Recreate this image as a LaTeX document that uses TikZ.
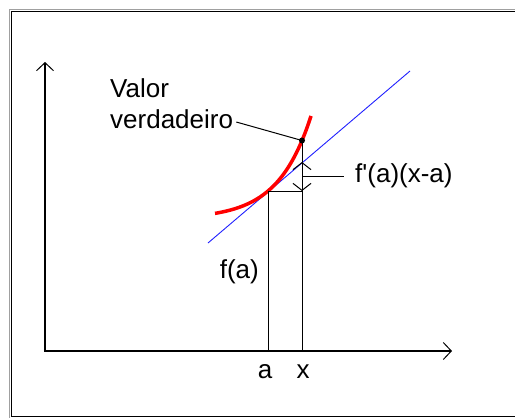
\documentclass[tikz,border=0pt]{standalone}
\usepackage{fontspec}
\setmainfont{Liberation Sans}
\usetikzlibrary{arrows.meta,calc}
\definecolor{tgInk}{HTML}{000000}
\definecolor{tgRed}{HTML}{FF0000}
\definecolor{tgBlue}{HTML}{2020FF}
\definecolor{tgGray}{HTML}{A0A0A0}
\tikzset{
  axis/.style    ={tgInk,line width=2.4pt,
                   -{Straight Barb[length=8pt,width=17pt,line width=1pt]}},
  guide/.style   ={tgInk,line width=1pt},
  curve/.style   ={tgRed,line width=3.5pt},
  tangent/.style ={tgBlue,line width=0.9pt},
  dimarr/.style  ={guide,{Straight Barb[length=7pt,width=18pt,line width=1pt]}-%
                   {Straight Barb[length=7pt,width=18pt,line width=1pt]}},
  lbl/.style     ={font=\fontsize{26}{31}\selectfont,inner sep=0pt,text=tgInk},
}

\begin{document}
\begin{tikzpicture}[x=1pt,y=-1pt]
\useasboundingbox (0,0) rectangle (515,418);
\clip (0,0) rectangle (515,418);
% ── frame ──────────────────────────────────────────────────────────────────
\draw[tgGray,line width=1.2pt] (9.3,9.3) rectangle (540,440);
\draw[tgInk,line width=1.2pt] (11.8,11.8) rectangle (540,416.2);

% ── axes ───────────────────────────────────────────────────────────────────
\coordinate (O) at (45,351);
\coordinate (yEnd) at (45,62);
\coordinate (xEnd) at (452,351);
\draw[axis] (O) -- (yEnd);
\draw[axis] ($(O)+(-1.2,0)$) -- (xEnd);

% ── tangent and curve ──────────────────────────────────────────────────────
\coordinate (A) at (268,191);   % point of tangency
\coordinate (P) at (302,140.5); % true value
\coordinate (T) at (302,162);   % tangent at x
\draw[tangent] (208,243) -- (410,71);
\draw[curve] plot[domain=-53:43,samples=80,smooth]
  ({268+\x},{191-28*(exp(0.0303*\x)-1)});

% ── ordinates ──────────────────────────────────────────────────────────────
\draw[guide] (A) -- (A|-O);
\draw[guide] (P) -- (P|-O);
\draw[guide] (A) -- (A-|P);
\draw[dimarr] (T) -- (A-|P);
\fill[tgInk] (P) circle (3pt);

% ── labels ─────────────────────────────────────────────────────────────────
\node[lbl,anchor=base west] (vlr) at (110,97) {Valor};
\node[lbl,anchor=base west] (vrd) at (110,128) {verdadeiro};
\draw[guide] ($(vrd.base east)+(3,-6)$) -- (P);

\coordinate (M) at (302,176);
\node[lbl,anchor=west] (dlab) at (355,176) {f\textquotesingle(a)(x-a)};
\draw[guide] (M) -- ($(dlab.west)+(-11,0)$);

\node[lbl,anchor=east] (fa) at (259,272) {f(a)};
\node[lbl,anchor=base] (la) at (265,378) {a};
\node[lbl,anchor=base] (lx) at (303,378) {x};
\end{tikzpicture}
\end{document}
